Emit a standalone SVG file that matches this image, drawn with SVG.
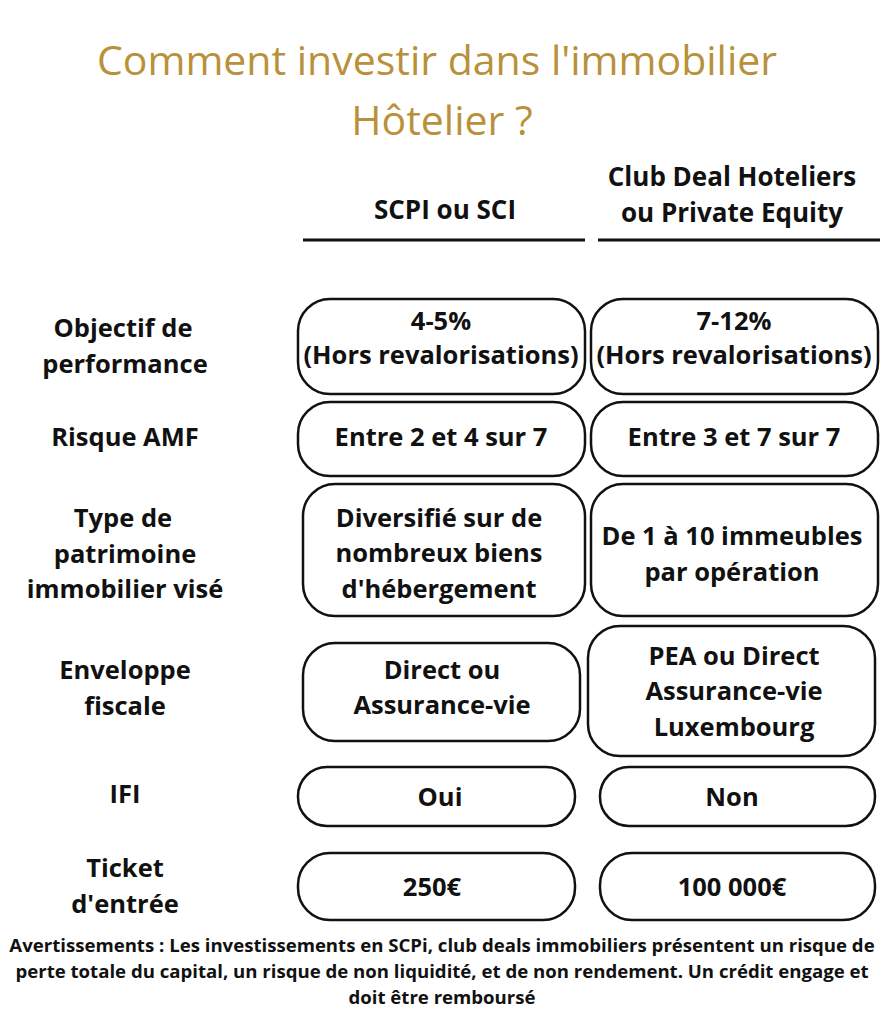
<svg xmlns="http://www.w3.org/2000/svg" width="884" height="1024" viewBox="0 0 884 1024">
<style>
text{font-family:"Open Sans","Noto Sans",sans-serif;text-anchor:middle;fill:#111}
.t{fill:#b8913a;font-size:41px}
.h{font-weight:bold;font-size:26px}
.b{font-weight:bold;font-size:25.5px}
.w{font-weight:bold;font-size:18.6px}
rect{fill:#fff;stroke:#111;stroke-width:2.5}
</style>
<rect x="0" y="0" width="884" height="1024" style="stroke:none"/>
<text class="t" x="437" y="75">Comment investir dans l'immobilier</text>
<text class="t" x="442" y="135">Hôtelier ?</text>
<g id="headers">
<text class="h" x="445" y="219">SCPI ou SCI</text>
<text class="h" x="732" y="186">Club Deal Hoteliers</text>
<text class="h" x="732" y="222">ou Private Equity</text>
</g>
<g id="connectors">
<line x1="303" y1="240" x2="585" y2="240" stroke="#111" stroke-width="3"/>
<line x1="598" y1="240" x2="880" y2="240" stroke="#111" stroke-width="3"/>
</g>
<g id="labels">
<text class="b" x="123" y="337">Objectif de</text><text class="b" x="125" y="373">performance</text>
<text class="b" x="125" y="446">Risque AMF</text>
<text class="b" x="123" y="527">Type de</text><text class="b" x="125" y="563">patrimoine</text><text class="b" x="125" y="598">immobilier visé</text>
<text class="b" x="125" y="679">Enveloppe</text><text class="b" x="125" y="715">fiscale</text>
<text class="b" x="125" y="803">IFI</text>
<text class="b" x="125" y="877">Ticket</text><text class="b" x="125" y="913">d'entrée</text>
</g>
<g id="r1l"><rect x="298" y="299" width="287" height="95" rx="32"/><text class="b" x="441" y="330">4-5%</text><text class="b" x="441" y="364">(Hors revalorisations)</text></g>
<g id="r1r"><rect x="591" y="299" width="287" height="95" rx="32"/><text class="b" x="734" y="330">7-12%</text><text class="b" x="734" y="364">(Hors revalorisations)</text></g>
<g id="r2l"><rect x="298" y="402" width="287" height="74" rx="32"/><text class="b" x="441" y="446">Entre 2 et 4 sur 7</text></g>
<g id="r2r"><rect x="591" y="402" width="287" height="74" rx="32"/><text class="b" x="734" y="446">Entre 3 et 7 sur 7</text></g>
<g id="r3l"><rect x="303" y="484" width="282" height="132" rx="32"/><text class="b" x="439" y="527">Diversifié sur de</text><text class="b" x="439" y="562">nombreux biens</text><text class="b" x="439" y="598">d'hébergement</text></g>
<g id="r3r"><rect x="591" y="484" width="287" height="132" rx="32"/><text class="b" x="732" y="545">De 1 à 10 immeubles</text><text class="b" x="732" y="581">par opération</text></g>
<g id="r4l"><rect x="303" y="643" width="277" height="98" rx="32"/><text class="b" x="442" y="679">Direct ou</text><text class="b" x="442" y="714">Assurance-vie</text></g>
<g id="r4r"><rect x="588" y="626" width="287" height="130" rx="32"/><text class="b" x="734" y="665">PEA ou Direct</text><text class="b" x="734" y="700">Assurance-vie</text><text class="b" x="734" y="736">Luxembourg</text></g>
<g id="r5l"><rect x="298" y="767" width="277" height="59" rx="29"/><text class="b" x="440" y="806">Oui</text></g>
<g id="r5r"><rect x="600" y="767" width="275" height="59" rx="29"/><text class="b" x="732" y="806">Non</text></g>
<g id="r6l"><rect x="298" y="853" width="277" height="67" rx="32"/><text class="b" x="432" y="896">250€</text></g>
<g id="r6r"><rect x="600" y="853" width="275" height="67" rx="32"/><text class="b" x="732" y="896">100 000€</text></g>
<g id="warning">
<text class="w" x="442" y="952">Avertissements : Les investissements en SCPi, club deals immobiliers présentent un risque de</text>
<text class="w" x="442" y="978">perte totale du capital, un risque de non liquidité, et de non rendement. Un crédit engage et</text>
<text class="w" x="442" y="1004">doit être remboursé</text>
</g>
</svg>
